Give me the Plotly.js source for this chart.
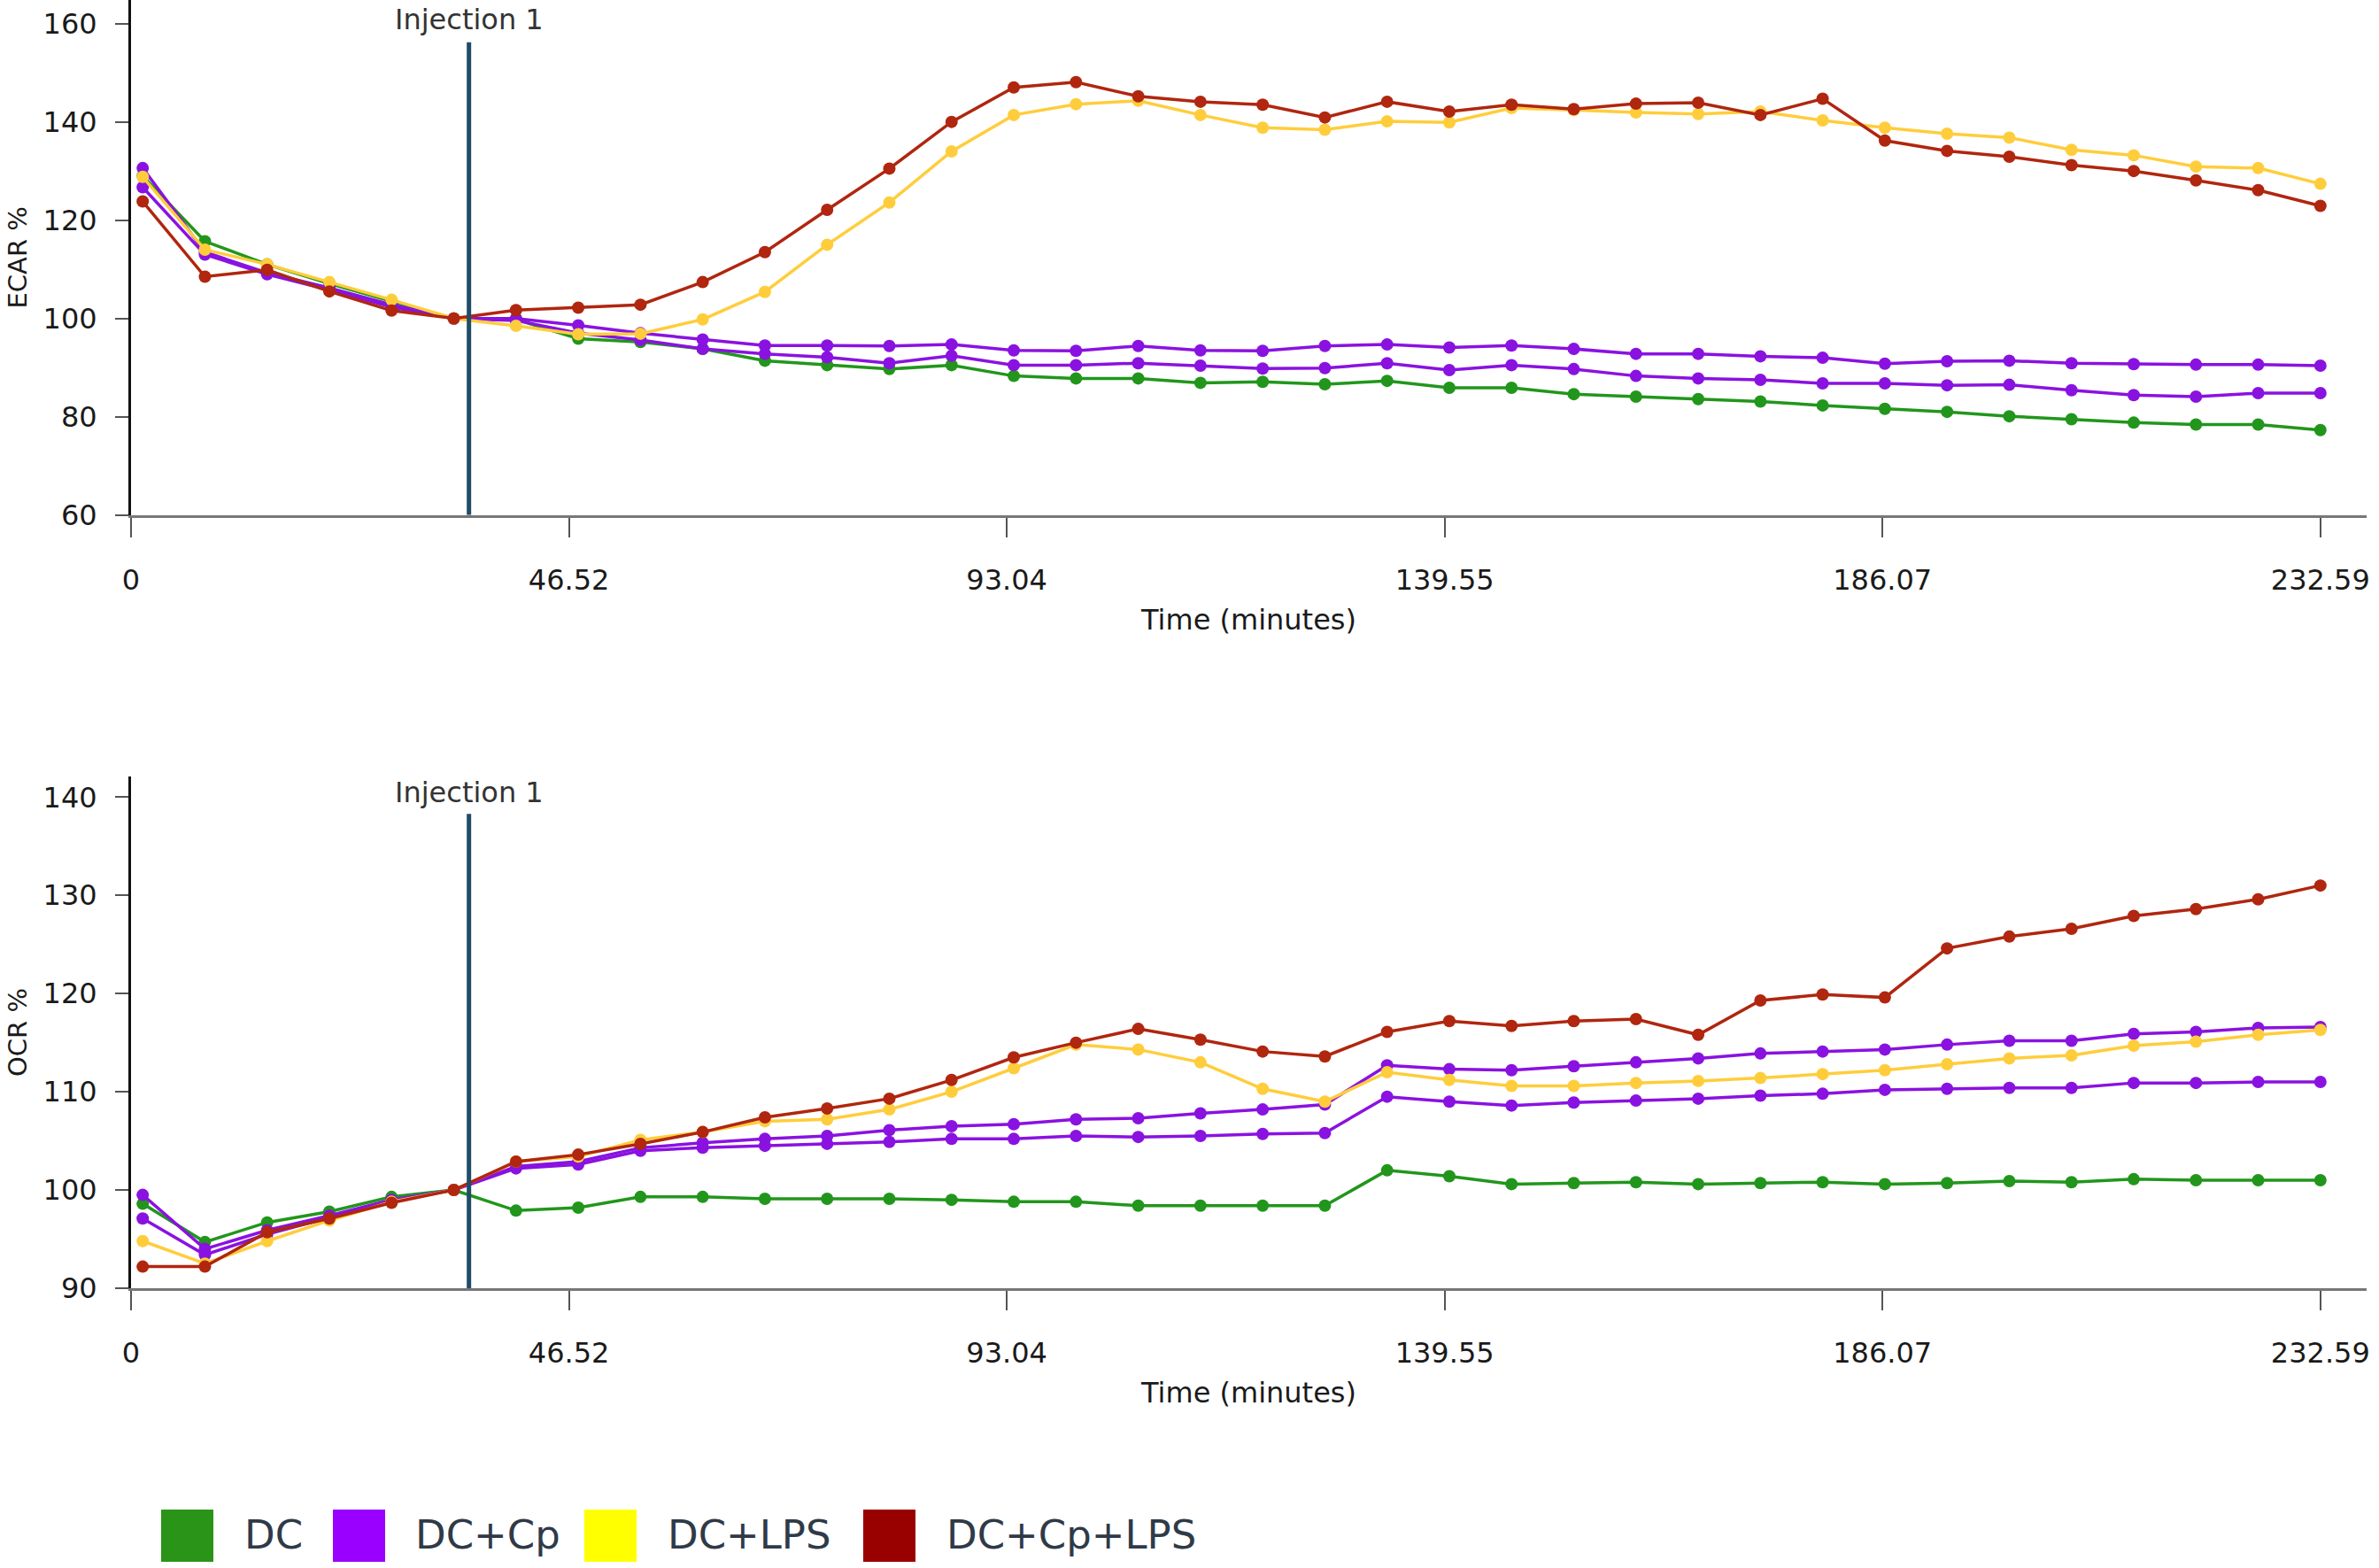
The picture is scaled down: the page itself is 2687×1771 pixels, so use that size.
<!DOCTYPE html>
<html>
<head>
<meta charset="utf-8">
<script src="https://cdn.plot.ly/plotly-3.0.1.min.js"></script>
<style>
  html, body { margin: 0; padding: 0; background: #fff; }
  #chart { width: 2687px; height: 1771px; }
</style>
</head>
<body>
<div id="chart"></div>
<script>
// measurement times (minutes)
const times = [1.24, 7.85, 14.46, 21.07, 27.68, 34.29, 40.90, 47.51, 54.12, 60.73, 67.34, 73.95,
  80.56, 87.17, 93.78, 100.39, 107.00, 113.61, 120.22, 126.83, 133.44, 140.05, 146.66, 153.27,
  159.88, 166.49, 173.10, 179.71, 186.32, 192.93, 199.54, 206.15, 212.76, 219.37, 225.98, 232.59]

const xTickVals = [0, 46.52, 93.04, 139.55, 186.07, 232.59]
const xTickText = ['0', '46.52', '93.04', '139.55', '186.07', '232.59']
const injectionTimes = [35.9]
const injectionLabels = ['Injection 1']

const groupNames = ['DC', 'DC+Cp', 'DC+LPS', 'DC+Cp+LPS']
const lineColors = ['#22961c', '#8a12e0', '#ffcd3c', '#b0260f']
const swatchColors = ['#2a9418', '#9900ff', '#ffff00', '#990000']

// ECAR %
const ecarDC = [129, 115.7, 111, 107.1, 103.5, 100, 99.8, 95.9, 95.2, 93.8, 91.4, 90.5,
  89.7, 90.5, 88.3, 87.8, 87.8, 86.9, 87.1, 86.6, 87.3, 85.9, 85.9, 84.6,
  84.1, 83.6, 83.1, 82.3, 81.6, 81.0, 80.1, 79.5, 78.8, 78.4, 78.4, 77.3]
const ecarCpA = [130.6, 113.5, 109.3, 106.2, 102.8, 100, 100, 98.6, 97.0, 95.7, 94.5, 94.5,
  94.4, 94.7, 93.5, 93.4, 94.4, 93.5, 93.4, 94.4, 94.7, 94.1, 94.5, 93.8,
  92.8, 92.8, 92.3, 92.0, 90.8, 91.3, 91.4, 90.9, 90.7, 90.6, 90.6, 90.4]
const ecarCpB = [126.7, 113.0, 109.0, 105.8, 102.3, 100, 99.6, 97.0, 95.6, 93.8, 92.8, 92.1,
  90.9, 92.4, 90.5, 90.5, 90.9, 90.4, 89.8, 89.9, 90.9, 89.5, 90.5, 89.7,
  88.3, 87.8, 87.5, 86.8, 86.8, 86.4, 86.5, 85.4, 84.4, 84.1, 84.8, 84.8]
const ecarLPS = [128.8, 114, 111, 107.4, 103.8, 100, 98.5, 96.8, 96.9, 99.8, 105.4, 115,
  123.6, 134, 141.4, 143.6, 144.3, 141.4, 138.8, 138.4, 140.1, 139.9, 142.8, 142.4,
  141.9, 141.6, 142.1, 140.3, 138.8, 137.6, 136.8, 134.3, 133.2, 130.9, 130.6, 127.4]
const ecarCpLPS = [123.8, 108.5, 109.9, 105.5, 101.6, 100, 101.7, 102.2, 102.8, 107.4, 113.5, 122.1,
  130.5, 140, 147.0, 148.1, 145.2, 144.1, 143.5, 140.9, 144.1, 142.1, 143.5, 142.6,
  143.7, 143.9, 141.4, 144.7, 136.2, 134.1, 132.9, 131.2, 130.0, 128.1, 126.1, 122.9]

// OCR %
const ocrDC = [98.6, 94.7, 96.7, 97.8, 99.3, 100, 97.9, 98.2, 99.3, 99.3, 99.1, 99.1,
  99.1, 99.0, 98.8, 98.8, 98.4, 98.4, 98.4, 98.4, 102.0, 101.4, 100.6, 100.7,
  100.8, 100.6, 100.7, 100.8, 100.6, 100.7, 100.9, 100.8, 101.1, 101.0, 101.0, 101.0]
const ocrCpA = [99.5, 94.0, 95.9, 97.4, 99.0, 100, 102.4, 102.9, 104.3, 104.8, 105.2, 105.5,
  106.1, 106.5, 106.7, 107.2, 107.3, 107.8, 108.2, 108.7, 112.7, 112.3, 112.2, 112.6,
  113.0, 113.4, 113.9, 114.1, 114.3, 114.8, 115.2, 115.2, 115.9, 116.1, 116.5, 116.6]
const ocrCpB = [97.1, 93.4, 95.5, 97.2, 98.9, 100, 102.2, 102.6, 104.0, 104.3, 104.5, 104.7,
  104.9, 105.2, 105.2, 105.5, 105.4, 105.5, 105.7, 105.8, 109.5, 109.0, 108.6, 108.9,
  109.1, 109.3, 109.6, 109.8, 110.2, 110.3, 110.4, 110.4, 110.9, 110.9, 111.0, 111.0]
const ocrLPS = [94.8, 92.5, 94.8, 96.9, 98.8, 100, 102.9, 103.4, 105.1, 105.9, 107.0, 107.2,
  108.2, 110.0, 112.4, 114.8, 114.3, 113.0, 110.3, 109.0, 112.0, 111.2, 110.6, 110.6,
  110.9, 111.1, 111.4, 111.8, 112.2, 112.8, 113.4, 113.7, 114.7, 115.1, 115.8, 116.3]
const ocrCpLPS = [92.2, 92.2, 95.7, 97.1, 98.7, 100, 102.9, 103.6, 104.7, 105.9, 107.4, 108.3,
  109.3, 111.2, 113.5, 115.0, 116.4, 115.3, 114.1, 113.6, 116.1, 117.2, 116.7, 117.2,
  117.4, 115.8, 119.3, 119.9, 119.6, 124.6, 125.8, 126.6, 127.9, 128.6, 129.6, 131.0]

const W = 2687
const H = 1771
const px = v => v / W
const py = v => 1 - v / H

const panels = [
  { yaxis: 'y', xaxis: 'x', series: [ecarDC, ecarCpB, ecarCpA, ecarLPS, ecarCpLPS],
    lineTop: 156.2, labelY: 160.9 },
  { yaxis: 'y2', xaxis: 'x2', series: [ocrDC, ocrCpB, ocrCpA, ocrLPS, ocrCpLPS],
    lineTop: 138.3, labelY: 140.5 },
]
// which group each series belongs to (two DC+Cp replicates)
const seriesGroup = [0, 1, 1, 2, 3]

const data = []
panels.forEach(p => {
  p.series.forEach((ys, i) => {
    const c = lineColors[seriesGroup[i]]
    data.push({
      x: times,
      y: ys,
      xaxis: p.xaxis,
      yaxis: p.yaxis,
      mode: 'lines+markers',
      name: groupNames[seriesGroup[i]],
      line: { color: c, width: 3.5 },
      marker: { color: c, size: 14 },
      showlegend: false,
      hoverinfo: 'skip',
    })
  })
})

const tickFont = { family: 'DejaVu Sans', size: 32, color: '#1a1a1a' }

const xAxisBase = {
  range: [0, 237.5],
  domain: [px(148), px(2673)],
  tickmode: 'array',
  tickvals: xTickVals,
  ticktext: xTickText,
  ticks: 'outside',
  ticklen: 22,
  tickwidth: 2,
  tickcolor: '#555',
  ticklabelstandoff: 21,
  showline: true,
  linecolor: '#777',
  linewidth: 3,
  showgrid: false,
  zeroline: false,
  tickfont: tickFont,
  title: { text: 'Time (minutes)', font: tickFont, standoff: 16 },
}

const yAxisBase = {
  ticks: 'outside',
  ticklen: 15,
  tickwidth: 2,
  tickcolor: '#555',
  ticklabelstandoff: 14,
  showline: true,
  linecolor: '#111',
  linewidth: 3,
  showgrid: false,
  zeroline: false,
  tickfont: tickFont,
}

const shapes = []
const annotations = []
panels.forEach((p, k) => {
  const xr = k === 0 ? 'x' : 'x2'
  const yr = k === 0 ? 'y' : 'y2'
  const yBottom = k === 0 ? 60 : 90
  injectionTimes.forEach((t, j) => {
    shapes.push({
      type: 'line', xref: xr, yref: yr,
      x0: t, x1: t, y0: yBottom, y1: p.lineTop,
      line: { color: '#1f4d68', width: 5 },
    })
    annotations.push({
      xref: xr, yref: yr, x: t, y: p.labelY,
      text: injectionLabels[j], showarrow: false,
      xanchor: 'center', yanchor: 'middle',
      font: { family: 'DejaVu Sans', size: 32, color: '#333' },
    })
  })
})

// legend: big coloured squares at the bottom
const swatchLeft = [182, 376, 660, 975]
const textLeft = [274, 467, 752, 1067]
groupNames.forEach((name, i) => {
  shapes.push({
    type: 'rect', xref: 'paper', yref: 'paper',
    x0: px(swatchLeft[i]), x1: px(swatchLeft[i] + 59),
    y0: py(1764), y1: py(1705),
    fillcolor: swatchColors[i], line: { width: 0 },
  })
  annotations.push({
    xref: 'paper', yref: 'paper', x: px(textLeft[i]), y: py(1733),
    text: name, showarrow: false, xanchor: 'left', yanchor: 'middle',
    font: { family: 'DejaVu Sans', size: 45, color: '#2f3a48' },
  })
})

const layout = {
  width: W,
  height: H,
  margin: { l: 0, r: 0, t: 0, b: 0 },
  paper_bgcolor: '#fff',
  plot_bgcolor: '#fff',
  showlegend: false,
  xaxis: { ...xAxisBase, anchor: 'y' },
  xaxis2: { ...xAxisBase, anchor: 'y2' },
  yaxis: {
    ...yAxisBase,
    domain: [py(581.7), 1],
    range: [60, 164.8],
    tickvals: [60, 80, 100, 120, 140, 160],
    anchor: 'x',
    title: { text: 'ECAR %', font: { family: 'DejaVu Sans', size: 29, color: '#1a1a1a' }, standoff: 10 },
  },
  yaxis2: {
    ...yAxisBase,
    domain: [py(1455), py(877)],
    range: [90, 142.1],
    tickvals: [90, 100, 110, 120, 130, 140],
    anchor: 'x2',
    title: { text: 'OCR %', font: { family: 'DejaVu Sans', size: 29, color: '#1a1a1a' }, standoff: 10 },
  },
  shapes,
  annotations,
}

Plotly.newPlot('chart', data, layout, { displayModeBar: false, staticPlot: true })
</script>
</body>
</html>
